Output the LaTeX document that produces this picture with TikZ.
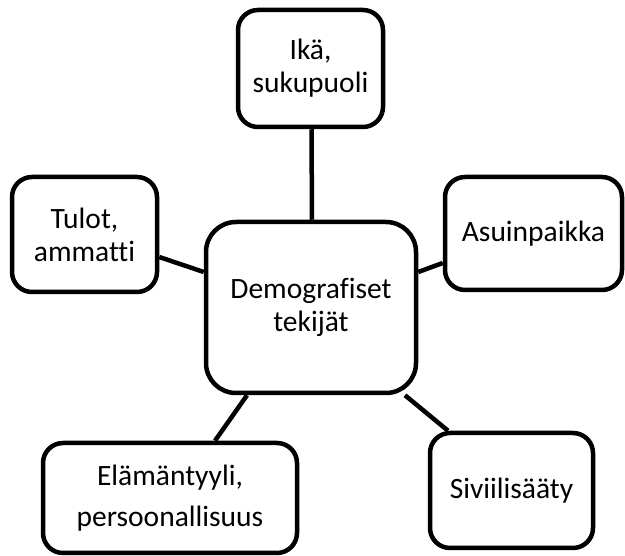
\documentclass[tikz,border=0pt]{standalone}
\usepackage{fontspec}
\setmainfont{Carlito}[Ligatures=NoCommon]
\begin{document}
\begin{tikzpicture}[x=1pt,y=-1pt,
  box/.style={draw=black, line width=4.5pt, fill=white, rounded corners=20pt,
    inner sep=0pt, align=center, font=\fontsize{29.5}{33}\selectfont},
  link/.style={draw=black, line width=4.5pt}]
\useasboundingbox (0,0) rectangle (625,556);
\node[box, minimum width=145pt, minimum height=117pt] (top) at (310.5,68.5) {Ikä,\\sukupuoli};
\node[box, minimum width=145pt, minimum height=115pt] (left) at (84.5,234.5) {Tulot,\\ammatti};
\node[box, minimum width=210pt, minimum height=171pt, rounded corners=30pt] (ctr) at (311,307.5) {Demografiset\\tekijät};
\node[box, minimum width=177pt, minimum height=113pt] (right) at (533.5,233.5) {Asuinpaikka};
\node[box, minimum width=254pt, minimum height=110pt] (bl) at (170,498) {Elämäntyyli,\\[8pt]persoonallisuus};
\node[box, minimum width=163pt, minimum height=115pt] (br) at (511.5,490.5) {Siviilisääty};
\draw[link] ([xshift=1pt]top.south) -- ([xshift=1pt]ctr.north);
\draw[link] ([yshift=-22.5pt]left.east) -- ([yshift=35.5pt]ctr.west);
\draw[link] ([yshift=35.5pt]ctr.east) -- ([yshift=-29.5pt]right.west);
\draw[link] ([xshift=-64pt]ctr.south) -- ([xshift=45pt]bl.north);
\draw[link] ([xshift=94pt]ctr.south) -- ([xshift=-63.5pt]br.north);
\end{tikzpicture}
\end{document}
